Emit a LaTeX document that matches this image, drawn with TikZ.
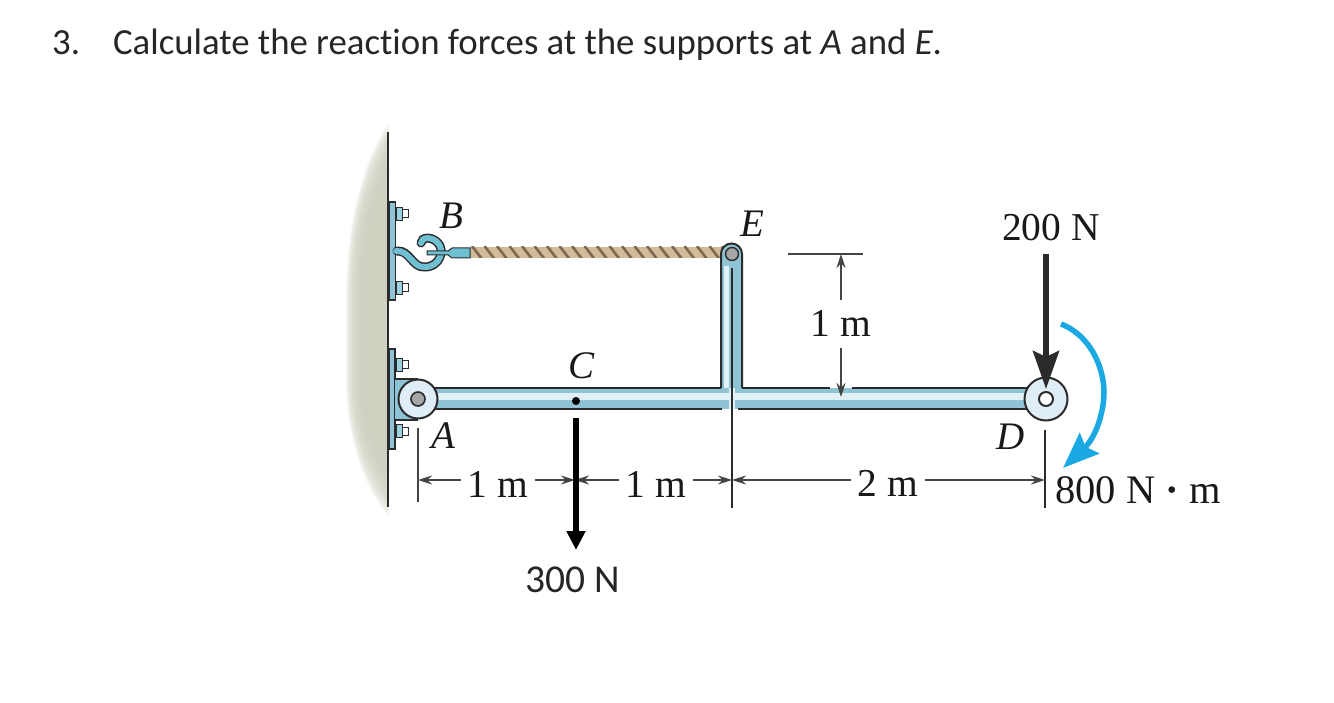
\documentclass[tikz,border=0pt]{standalone}
\usepackage{fontspec}
\setmainfont{Liberation Serif}
\newfontfamily\titlefont[Ligatures=NoCommon]{Carlito}
\usetikzlibrary{arrows.meta}
\definecolor{wallgray}{HTML}{CFCFC0}
\definecolor{steel}{HTML}{8FC3D6}
\definecolor{steelhi}{HTML}{E2F1F6}
\definecolor{hookblue}{HTML}{6FBFD2}
\definecolor{pinface}{HTML}{DFEEF6}
\definecolor{edge}{HTML}{2B2B2B}
\definecolor{ropetan}{HTML}{D2BB98}
\definecolor{ropedark}{HTML}{7A6A50}
\definecolor{momentblue}{HTML}{1BA9E4}
\definecolor{dimgray}{HTML}{444444}
\tikzset{
  titletext/.style={font=\titlefont\fontsize{36.8}{36.8}\selectfont,inner sep=0pt,anchor=base west,text=black!85},
  loadtext/.style={font=\titlefont\fontsize{39.5}{39.5}\selectfont,inner sep=0pt,text=black!85},
  serif/.style={font=\fontsize{39.5}{39.5}\selectfont,inner sep=0pt,text=black!90},
  ptlabel/.style={font=\itshape\fontsize{39}{39}\selectfont,inner sep=0pt,text=black!90},
  dim/.style={draw=dimgray,line width=1.4pt},
  dimarrow/.style={dim,-{Stealth[length=14pt,width=9pt]}},
  outline/.style={draw=edge,line width=2pt},
  platebox/.style={fill=steel,draw=edge,line width=1.2pt},
  pinball/.style={circle,fill=pinface,draw=edge,line width=2pt,inner sep=0pt},
  nutshape/.style={fill=hookblue!70!white,draw=edge,line width=1pt},
  tipshape/.style={fill=white,draw=edge,line width=1pt},
}
\newcommand{\boltat}[2]{%
  \draw[tipshape] (#1+6,#2-4) rectangle (#1+12,#2+4);
  \draw[nutshape] (#1,#2-6.5) rectangle (#1+6,#2+6.5);
}
\begin{document}
\begin{tikzpicture}[x=1pt,y=-1pt]
\useasboundingbox (0,0) rectangle (1334,703);
% title
\node[titletext] (title) at (52,55) {3.\hspace{33pt}Calculate the reaction forces at the supports at \textit{A} and \textit{E}.};
% wall
\foreach \k in {0,...,14}{
  \fill[wallgray,opacity=.2] (388,{124+3*\k}) .. controls ({360+\k},{165+3*\k}) and ({346+1.2*\k},230) .. ({346+1.2*\k},300)
    -- ({346+1.2*\k},380) .. controls ({346+1.2*\k},440) and ({366+\k},{490-3*\k}) .. (388,{516-3*\k}) -- cycle;
}
\draw[edge,line width=1.5pt] (388,132) -- (388,507);
% plates and bolts
\draw[platebox] (389.5,202) rectangle (395.5,300);
\draw[platebox] (389.5,349) rectangle (395,449);
\boltat{396}{214}
\boltat{396}{288}
\boltat{396}{365}
\boltat{396}{431}
% hook
\draw[edge,line width=9pt,line cap=round] (397,251) .. controls (410,250) and (412,268) .. (425,267)
  .. controls (440,267) and (445,250) .. (438,243) .. controls (432,236) and (421,237) .. (421,243);
\draw[hookblue,line width=6pt,line cap=round] (396,251) .. controls (410,250) and (412,268) .. (425,267)
  .. controls (440,267) and (445,250) .. (438,243) .. controls (432,236) and (421,237) .. (421,243);
% rope
\fill[ropetan] (470,247) rectangle (726,258);
\begin{scope}
\clip (470,247) rectangle (726,258);
\foreach \i in {-1,0,...,20}{
  \draw[ropedark,line width=2.6pt] ({472+12.5*\i},246) -- ({482+12.5*\i},259);
}
\end{scope}
% ferrule
\draw[edge,fill=hookblue,line width=1pt] (427,251) -- (448,251) -- (452,248) -- (470,248) -- (470,258) -- (452,258) -- (448,255) -- (427,255) -- cycle;
% bracket at A
\fill[steel] (395,379) rectangle (418,420);
\draw[edge,line width=1.5pt] (395,379) -- (418,379) (395,420) -- (418,420);
% vertical member
\fill[steel] (721,254) -- (721,400) -- (742,400) -- (742,254) arc[start angle=0,end angle=-180,radius=10.5] -- cycle;
\draw[outline] (721,388) -- (721,254) arc[start angle=180,end angle=360,radius=10.5] -- (742,388);
\fill[steelhi] (724,266) rectangle (729,388);
% beam
\fill[steel] (430,388) rectangle (1030,409);
\fill[steelhi] (430,393) rectangle (1030,400);
\fill[steelhi] (729,388) rectangle (735,409);
\draw[outline] (430,388) -- (721,388) (742,388) -- (830,388) (852,388) -- (1030,388);
\draw[outline] (430,409) -- (722,409) (738,409) -- (1030,409);
% named points
\node[pinball,minimum size=39pt] (pinA) at (418,399) {};
\node[circle,fill=gray!70,draw=edge,line width=1.6pt,minimum size=14pt,inner sep=0pt] (holeA) at (418,399) {};
\node[pinball,minimum size=43pt] (pinD) at (1046,399) {};
\node[circle,fill=white,draw=edge,line width=2pt,minimum size=14pt,inner sep=0pt] (holeD) at (1046,399) {};
\node[circle,fill=gray!70,draw=edge,line width=1.4pt,minimum size=13pt,inner sep=0pt] (pinE) at (732,254) {};
\node[circle,fill=black,minimum size=8pt,inner sep=0pt] (ptC) at (576,401) {};
% labels
\node[ptlabel] (lblB) at (451,216) {B};
\node[ptlabel] (lblE) at (752,224) {E};
\node[ptlabel] (lblC) at (582,366) {C};
\node[ptlabel] (lblA) at (443,436) {A};
\node[ptlabel] (lblD) at (1011,437) {D};
% dimension coordinates
\coordinate (tA) at (418,480);
\coordinate (tC) at (575,480);
\coordinate (tE) at (732,480);
\coordinate (tD) at (1045,480);
\node[serif] (d1) at (498,484) {1 m};
\node[serif] (d2) at (656,484) {1 m};
\node[serif] (d3) at (888,483) {2 m};
\node[serif] (d4) at (841,323) {1 m};
\draw[dim] (418,428) -- (418,502);
\draw[draw=edge,line width=1.3pt] (732,268) -- (732,508);
\draw[draw=edge,line width=1.3pt] (1045,430) -- (1045,508);
\draw[dimarrow] ([xshift=-7pt]d1.west |- tA) -- (tA);
\draw[dimarrow] ([xshift=7pt]d1.east |- tA) -- (tC);
\draw[dimarrow] ([xshift=-7pt]d2.west |- tA) -- (tC);
\draw[dimarrow] ([xshift=7pt]d2.east |- tA) -- (tE);
\draw[dimarrow] ([xshift=-7pt]d3.west |- tA) -- (tE);
\draw[dimarrow] ([xshift=7pt]d3.east |- tA) -- (tD);
\coordinate (topL) at (788,254);
\coordinate (topR) at (863,254);
\coordinate (topM) at (841,254);
\coordinate (botM) at (841,397);
\draw[dim] (topL) -- (topR);
\draw[dimarrow] ([yshift=10pt]d4.north) -- (topM);
\draw[dimarrow] ([yshift=-12pt]d4.south) -- (botM);
% 300 N
\coordinate (c300s) at (576,418);
\coordinate (c300e) at (576,550);
\draw[line width=6pt,-{Triangle[length=19pt,width=18pt]}] (c300s) -- (c300e);
\node[loadtext] (l300) at (573,580) {300 N};
% 200 N
\node[serif] (l200) at (1051,228) {200 N};
\coordinate (c200s) at (1046,254);
\draw[line width=6pt,draw=edge,fill=edge,-{Stealth[length=38pt,width=26pt,inset=6pt]}] (c200s) -- (pinD.center |- 0,389);
% moment
\coordinate (mS) at (1061,324);
\coordinate (mE) at (1063,468);
\draw[momentblue,line width=5.5pt,-{Stealth[length=36pt,width=28pt,inset=5pt]}] (mS) .. controls (1092,336) and (1104,370) .. (1104,392) .. controls (1104,412) and (1096,437) .. (mE);
\node[serif,font=\fontsize{40.5}{40.5}\selectfont,anchor=base west] (l800) at (1055,503) {800 N \textbf{·} m};
\end{tikzpicture}
\end{document}
